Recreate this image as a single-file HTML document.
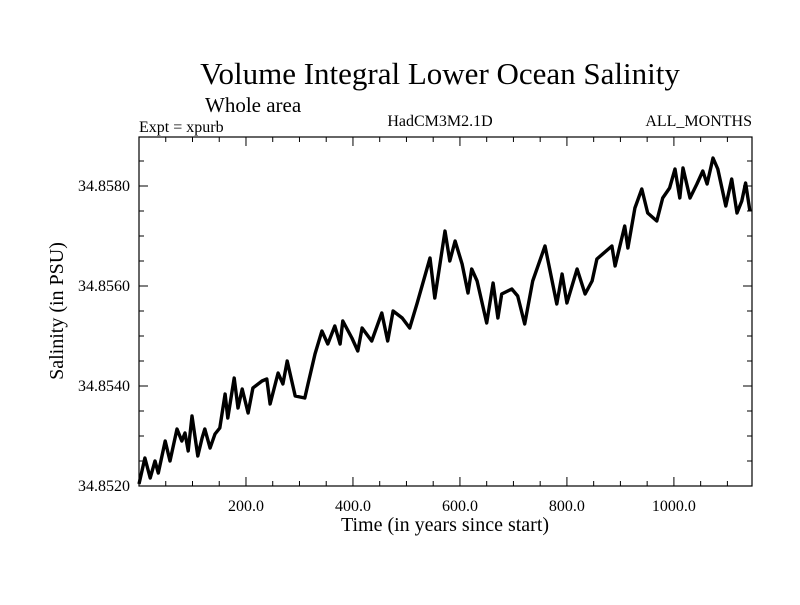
<!DOCTYPE html>
<html><head><meta charset="utf-8"><style>
body{margin:0;background:#fff}
svg text{font-family:"Liberation Serif",serif;fill:#000}
</style></head><body>
<svg id="chart" width="800" height="600" xmlns="http://www.w3.org/2000/svg">
<text x="440" y="84" font-size="31" text-anchor="middle">Volume Integral Lower Ocean Salinity</text>
<text x="205" y="112" font-size="21">Whole area</text>
<text x="139" y="132" font-size="16">Expt = xpurb</text>
<text x="440" y="126" font-size="16" text-anchor="middle">HadCM3M2.1D</text>
<text x="752" y="126" font-size="16" text-anchor="end">ALL_MONTHS</text>
<text x="445" y="531" font-size="20" text-anchor="middle">Time (in years since start)</text>
<text transform="translate(63,311) rotate(-90)" font-size="20" text-anchor="middle">Salinity (in PSU)</text>
<g id="axes"></g>
<path id="series" fill="none" stroke="#000" stroke-width="3.4" stroke-linejoin="round"/>
<rect x="139" y="137" width="613" height="349" fill="none" stroke="#000" stroke-width="1.2"/>
</svg>
<script>
const years=[0,11,21,30,36,49,58,71,80,86,92,99,110,118,123,133,142,151,161,166,178,185,193,204,213,230,239,245,260,269,277,292,310,316,329,342,353,366,376,381,398,409,417,435,454,465,475,492,506,520,544,553,572,581,591,604,615,622,632,650,662,671,678,697,708,721,736,759,781,791,800,819,834,847,856,884,890,908,914,927,940,951,968,979,992,1002,1011,1017,1030,1043,1054,1062,1073,1082,1097,1108,1118,1127,1134,1142];
const salinity=[34.85204,34.85256,34.85216,34.8525,34.85226,34.8529,34.8525,34.85314,34.8529,34.85306,34.8527,34.8534,34.8526,34.85296,34.85314,34.85276,34.85304,34.85316,34.85384,34.85336,34.85416,34.85356,34.85394,34.85346,34.85396,34.8541,34.85414,34.85364,34.85426,34.85404,34.8545,34.8538,34.85376,34.85404,34.85464,34.8551,34.85484,34.8552,34.85484,34.8553,34.85496,34.8547,34.85516,34.8549,34.85546,34.8549,34.8555,34.85536,34.85516,34.85566,34.85656,34.85576,34.8571,34.8565,34.8569,34.85644,34.85586,34.85634,34.8561,34.85526,34.85606,34.85536,34.85584,34.85594,34.8558,34.85524,34.8561,34.8568,34.85564,34.85624,34.85566,34.85634,34.85584,34.8561,34.85654,34.8568,34.8564,34.8572,34.85676,34.85756,34.85794,34.85746,34.8573,34.85776,34.85796,34.85834,34.85776,34.85836,34.85776,34.85804,34.8583,34.85804,34.85856,34.85834,34.8576,34.85814,34.85746,34.8577,34.85806,34.8575];
const xTickLabels=[200,400,600,800,1000];
const yTickLabels=[34.852,34.854,34.856,34.858];
const X0=139,X1=752,Y0=486,Y1=137,XMAX=1146,YMIN=34.852,YMAX=34.85898;
const xs=v=>X0+(v/XMAX)*(X1-X0);
const ys=v=>Y0-(v-YMIN)/(YMAX-YMIN)*(Y0-Y1);
const NS="http://www.w3.org/2000/svg";
const axes=document.getElementById('axes');
function ln(x1,y1,x2,y2,name){const l=document.createElementNS(NS,'line');l.setAttribute('x1',x1);l.setAttribute('y1',y1);l.setAttribute('x2',x2);l.setAttribute('y2',y2);l.setAttribute('stroke','#000');


axes.appendChild(l);}
function tx(x,y,s,anchor,name){const t=document.createElementNS(NS,'text');t.setAttribute('x',x);t.setAttribute('y',y);t.setAttribute('font-size','16');t.setAttribute('text-anchor',anchor);t.textContent=s;


axes.appendChild(t);}
for(let v=50;v<XMAX;v+=50){const major=v%200===0;const L=major?9:5;const x=xs(v);ln(x,Y0,x,Y0-L,'x-tick');ln(x,Y1,x,Y1+L,'x-tick-top');}
xTickLabels.forEach(v=>tx(xs(v),511,v.toFixed(1),'middle','x-tick-label'));
for(let v=YMIN;v<YMAX;v+=0.0005){const k=Math.round((v-YMIN)/0.0005);const major=k%4===0;const L=major?9:5;const y=ys(v);ln(X0,y,X0+L,y,'y-tick');ln(X1,y,X1-L,y,'y-tick-right');}
yTickLabels.forEach(v=>tx(130,ys(v)+5,v.toFixed(4),'end','y-tick-label'));
let d='';years.forEach((yr,i)=>{d+=(i?'L':'M')+xs(yr).toFixed(1)+','+ys(salinity[i]).toFixed(1);});
document.getElementById('series').setAttribute('d',d);
</script>
</body></html>
